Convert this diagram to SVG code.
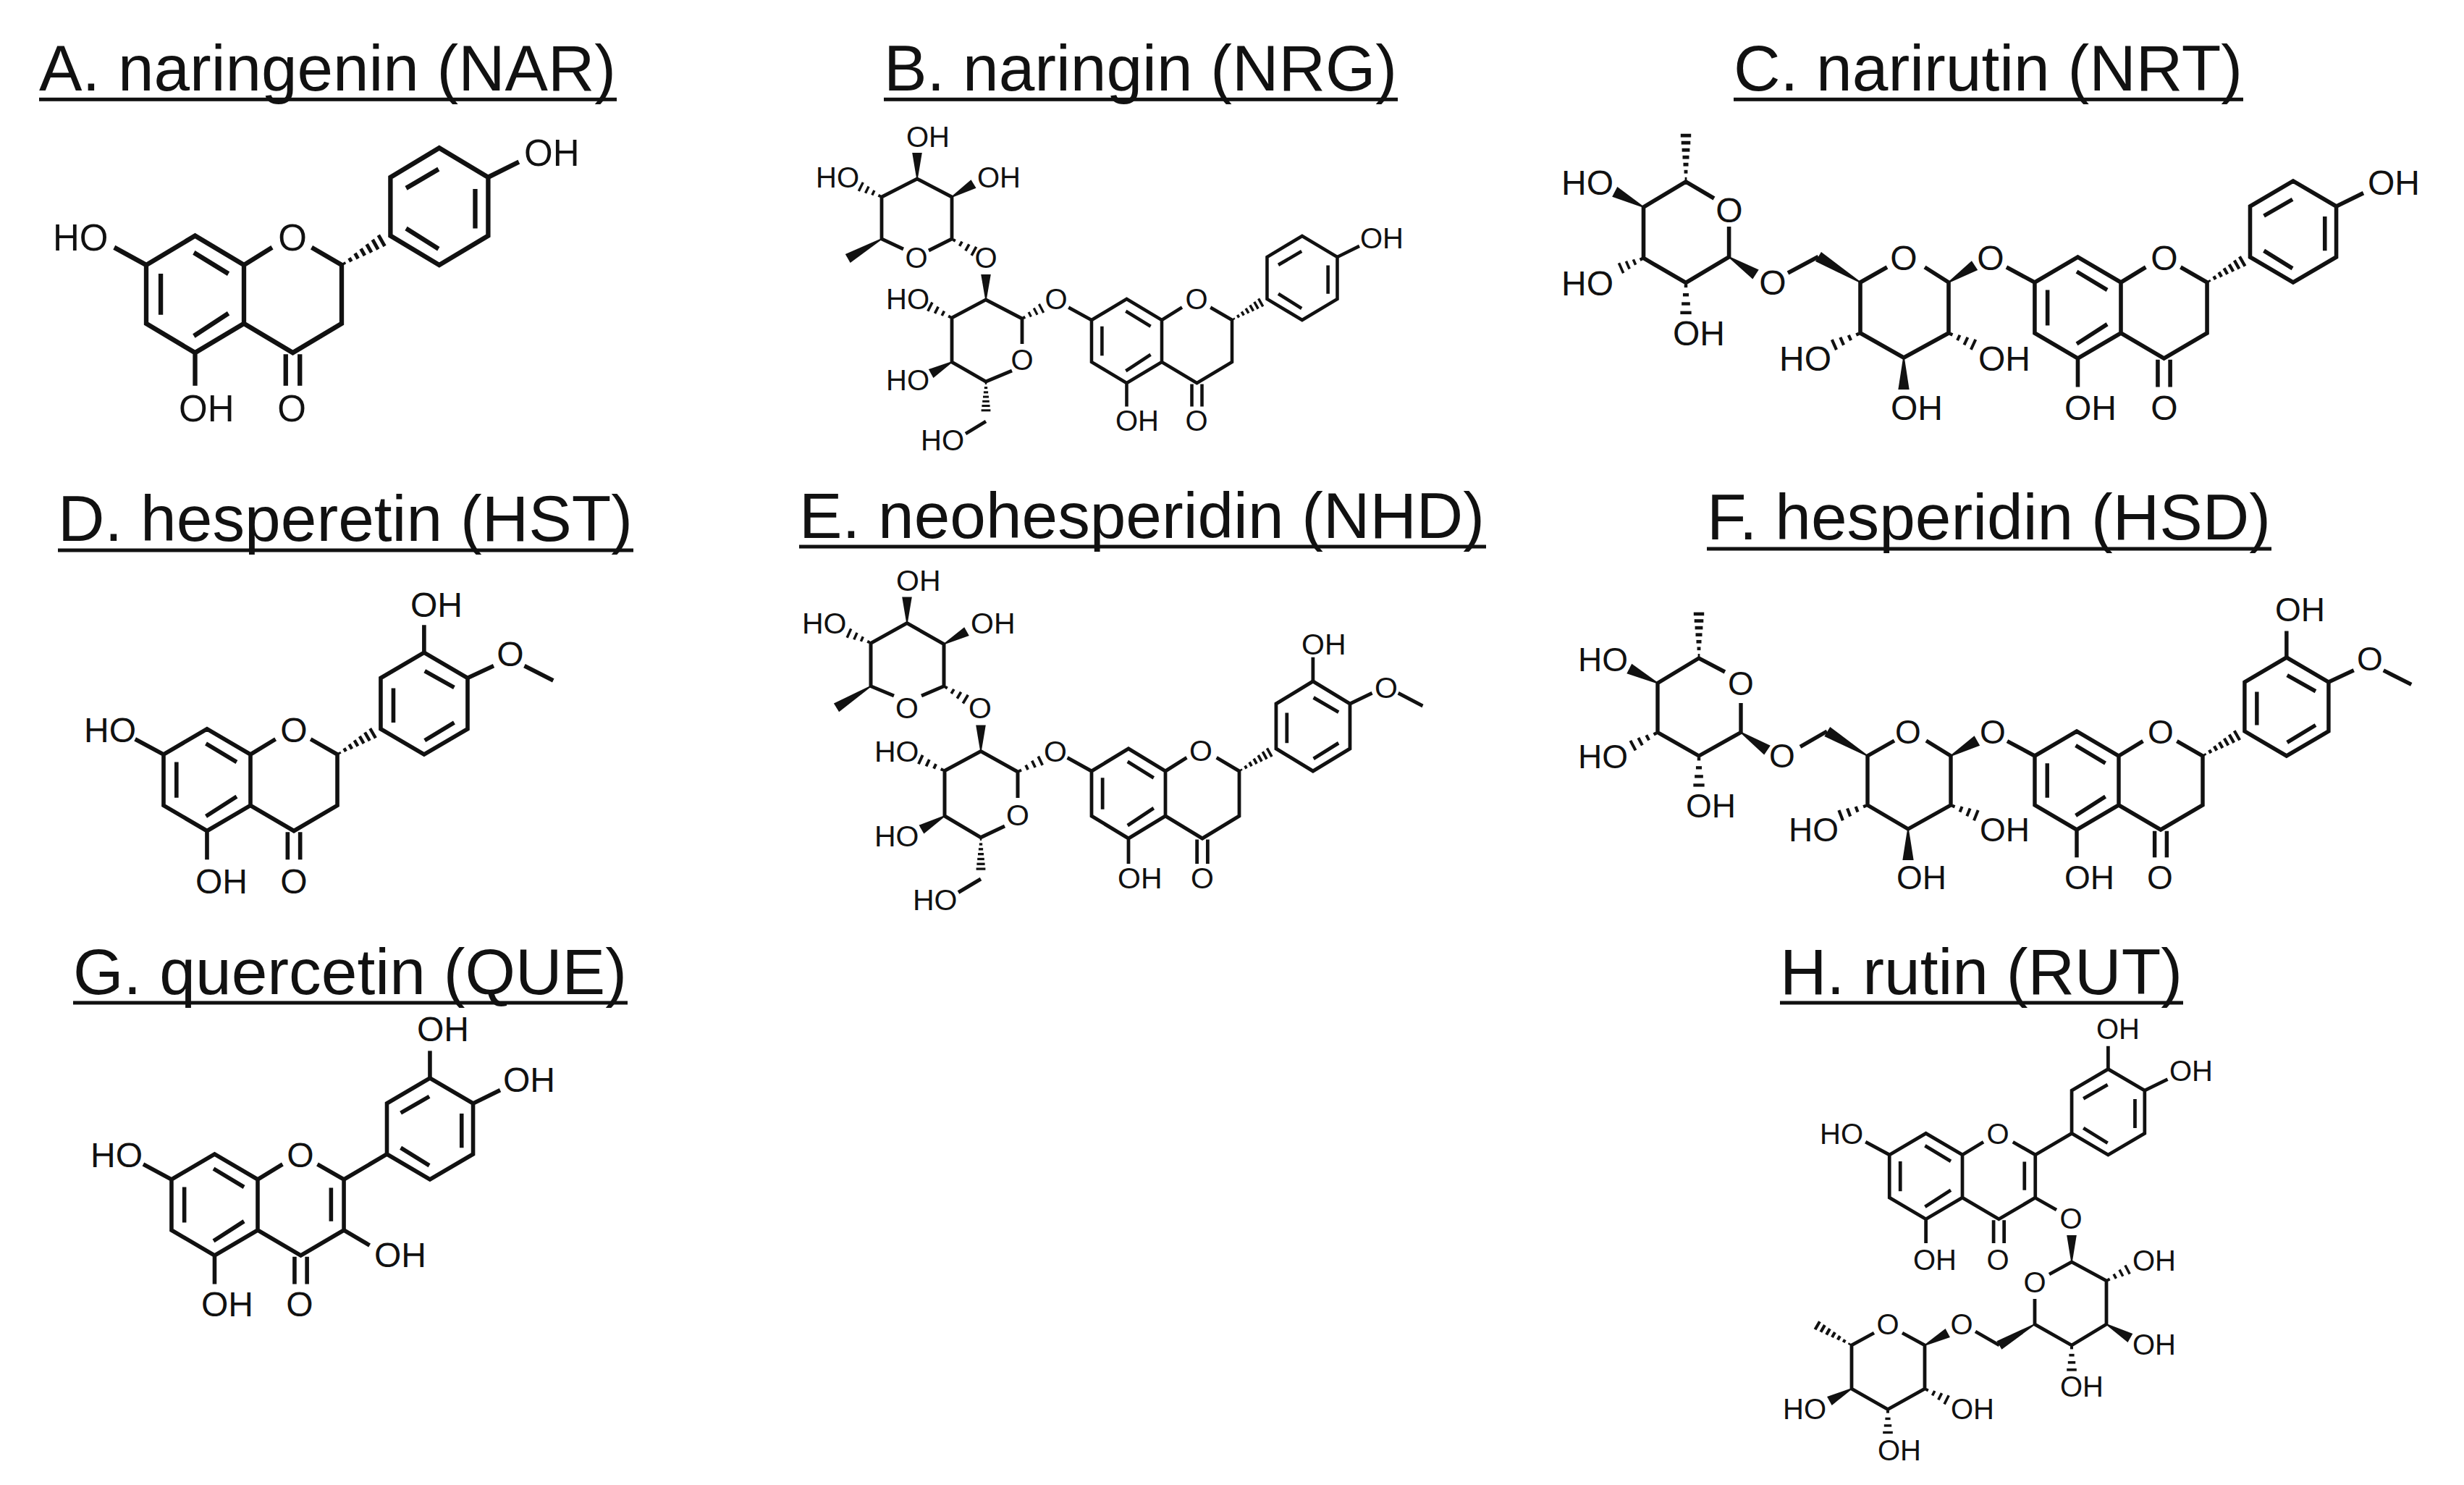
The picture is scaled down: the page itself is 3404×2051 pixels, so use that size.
<svg xmlns="http://www.w3.org/2000/svg" width="3404" height="2051" viewBox="0 0 3404 2051">
<style>
text{font-family:"Liberation Sans",Arial,sans-serif;fill:#111}
.t{font-size:89px}
.u{fill:#111;height:5px}
.b{fill:none;stroke:#111;stroke-width:6.5;stroke-linejoin:miter}
.s42{stroke-width:4.8}.s52{stroke-width:5.6}.s46{stroke-width:5}.s50{stroke-width:5.4}
.k{fill:#111}
.m{text-anchor:middle}
#mol-A text.l{font-size:51px}
#mol-B text.l{font-size:40px}
#mol-C text.l{font-size:48px}
#mol-D text.l{font-size:48px}
#mol-E text.l{font-size:41px}
#mol-F text.l{font-size:46px}
#mol-G text.l{font-size:48px}
#mol-H text.l{font-size:40px}
</style>
<defs>
<path id="w" class="k" d="M0,-1L100,-8.5V8.5L0,1Z"/>
<g id="h" class="k"><rect x="5" y="-2.5" width="10" height="5"/><rect x="33" y="-4.5" width="10" height="9"/><rect x="61" y="-6.5" width="10" height="13"/><rect x="89" y="-8.5" width="10" height="17"/></g>
<g id="h7" class="k"><rect x="2" y="-1.5" width="7" height="3"/><rect x="16.5" y="-2.7" width="7" height="5.4"/><rect x="31" y="-3.9" width="7" height="7.8"/><rect x="45.5" y="-5" width="7" height="10"/><rect x="60" y="-6" width="7" height="12"/><rect x="74.5" y="-7" width="7" height="14"/><rect x="89" y="-8" width="7" height="16"/></g>
<path id="core" class="b" d="M-184,-24L-138.6,0L-69.3,-40L0,0V80L-69.3,120L-138.6,80V0M0,0L40,-24M96,-24L138.6,0V80L69.3,120L0,80M-69.3,120V165M59.3,122V165M79.3,122V165M-118,12V68M-71,-17L-22,12M-71,97L-22,66"/>
<use id="hb" href="#h7" transform="translate(138.6,0) rotate(-30.4) scale(.71,1.1)"/>
<path id="fl" class="b" d="M138.6,0L207.8,-40M118,13V66"/>
<path id="phA" class="b" d="M207.8,-40V-120L277,-160L346.4,-120V-40L277,0ZM230,-105L276,-131M328,-104V-50M230,-50L276,-22"/>
<path id="phD" class="b" d="M207.8,-40V-120L277,-160L346.4,-120V-40L277,0ZM228,-104V-50M278,-131L325,-105M278,-22L325,-50"/>
<path id="oh4" class="b" d="M346.4,-120L390,-141"/>
<path id="oh3" class="b" d="M277,-160V-203"/>
<path id="ome" class="b" d="M346.4,-120L388,-139M437,-139L483,-116M277,-160V-203"/>
</defs>
<rect width="3404" height="2051" fill="#fff"/>

<g id="mol-A">
<text class="t" x="54" y="124.5" textLength="797" lengthAdjust="spacingAndGlyphs">A. naringenin (NAR)</text>
<rect class="u" x="54" y="134.8" width="798" height="5"/>
<g transform="translate(337,366) scale(.974,1.01)"><use href="#core"/><use href="#hb"/><use href="#phA"/><use href="#oh4"/></g>
<text class="l" x="724" y="229">OH</text><text class="l" x="73" y="346">HO</text><text class="l m" x="404" y="346">O</text><text class="l" x="247" y="582">OH</text><text class="l m" x="403" y="582">O</text>
</g>

<g id="mol-B">
<text class="t" x="1221" y="124.5" textLength="709" lengthAdjust="spacingAndGlyphs">B. naringin (NRG)</text>
<rect class="u" x="1221" y="134.8" width="710" height="5"/>
<g transform="translate(1605,442) scale(.70,.725)"><use href="#core"/><use href="#hb"/><use href="#phA"/><use href="#oh4"/></g>
<path class="b s42" d="M1283,346L1315,330V272L1267,247L1218,272V330L1248,344M1412,475V440L1362,414L1315,439V500L1362,527L1398,512M1362,582L1334,599"/>
<use href="#w" transform="translate(1267,247) rotate(-90) scale(.36,.8)"/>
<use href="#h" transform="translate(1218,272) rotate(-154) scale(.34,.8)"/>
<use href="#w" transform="translate(1315,272) rotate(-31) scale(.35,.8)"/>
<use href="#w" transform="translate(1218,330) rotate(150) scale(.54,.8)"/>
<use href="#h" transform="translate(1315,330) rotate(29) scale(.37,.8)"/>
<use href="#w" transform="translate(1362,414) rotate(-90) scale(.35,.8)"/>
<use href="#h" transform="translate(1315,439) rotate(-153) scale(.36,.8)"/>
<use href="#w" transform="translate(1315,500) rotate(151) scale(.33,.8)"/>
<use href="#h" transform="translate(1412,440) rotate(-28) scale(.32,.8)"/>
<use href="#h7" transform="translate(1362,527) rotate(90) scale(.43,.8)"/>
<text class="l" x="1252" y="203">OH</text><text class="l" x="1127" y="259">HO</text><text class="l" x="1350" y="259">OH</text>
<text class="l m" x="1266" y="370">O</text><text class="l m" x="1362" y="370">O</text>
<text class="l" x="1224" y="427">HO</text><text class="l" x="1224" y="539">HO</text><text class="l m" x="1412" y="511">O</text><text class="l m" x="1459" y="427">O</text><text class="l" x="1272" y="622">HO</text>
<text class="l m" x="1653" y="427">O</text><text class="l" x="1541" y="595">OH</text><text class="l m" x="1653" y="595">O</text><text class="l" x="1879" y="343">OH</text>
</g>

<g id="mol-C">
<text class="t" x="2395" y="124.5" textLength="703" lengthAdjust="spacingAndGlyphs">C. narirutin (NRT)</text>
<rect class="u" x="2395" y="134.8" width="704" height="5"/>
<g transform="translate(2930,390) scale(.859,.875)"><use href="#core"/><use href="#hb"/><use href="#phA"/><use href="#oh4"/></g>
<path class="b s52" d="M2368,274L2329,251L2270.5,286V356.5L2329,390.5L2388.6,355V313M2470,377L2512,354.5M2607,369L2570,390V460L2630,494L2692,460V390L2659,369"/>
<use href="#h7" transform="translate(2329,251) rotate(-90) scale(.69,.9)"/>
<use href="#w" transform="translate(2270.5,286) rotate(-152) scale(.45,.9)"/>
<use href="#h" transform="translate(2270.5,356.5) rotate(156) scale(.36,.9)"/>
<use href="#h" transform="translate(2329,390.5) rotate(90) scale(.44,.9)"/>
<use href="#w" transform="translate(2388.6,355) rotate(33) scale(.44,.9)"/>
<use href="#w" transform="translate(2570,390) rotate(-148.5) scale(.68,.9)"/>
<use href="#w" transform="translate(2692,390) rotate(-33) scale(.43,.9)"/>
<use href="#h" transform="translate(2570,460) rotate(156) scale(.42,.9)"/>
<use href="#h" transform="translate(2692,460) rotate(25) scale(.40,.9)"/>
<use href="#w" transform="translate(2630,494) rotate(90) scale(.44,.9)"/>
<text class="l" x="2157" y="269">HO</text><text class="l" x="2157" y="408">HO</text><text class="l" x="2311" y="477">OH</text>
<text class="l m" x="2389" y="307">O</text><text class="l m" x="2449" y="407">O</text><text class="l m" x="2630" y="373">O</text><text class="l m" x="2750" y="373">O</text>
<text class="l" x="2458" y="512">HO</text><text class="l" x="2733" y="512">OH</text><text class="l" x="2612" y="580">OH</text>
<text class="l m" x="2990" y="373">O</text><text class="l" x="2852" y="580">OH</text><text class="l m" x="2990" y="580">O</text><text class="l" x="3271" y="269">OH</text>
</g>

<g id="mol-D">
<text class="t" x="80" y="747" textLength="794" lengthAdjust="spacingAndGlyphs">D. hesperetin (HST)</text>
<rect class="u" x="80" y="757.5" width="795" height="5"/>
<g transform="translate(346,1042) scale(.866,.88)"><use href="#core"/><use href="#hb"/><use href="#phD"/><use href="#ome"/></g>
<text class="l" x="116" y="1025">HO</text><text class="l m" x="406" y="1025">O</text><text class="l" x="270" y="1234">OH</text><text class="l m" x="406" y="1234">O</text><text class="l" x="567" y="852">OH</text><text class="l m" x="705" y="920">O</text>
</g>

<g id="mol-E">
<text class="t" x="1104" y="743" textLength="947" lengthAdjust="spacingAndGlyphs">E. neohesperidin (NHD)</text>
<rect class="u" x="1104" y="752.5" width="949" height="5"/>
<g transform="translate(1610,1065) scale(.736,.775)"><use href="#core"/><use href="#hb"/><use href="#phD"/><use href="#ome"/></g>
<path class="b s46" d="M1273,961L1304,947.7V889.6L1253,860.6L1203,888.4V947.7L1235,961M1406,1102V1066L1355,1037.6L1305,1064.6V1127L1355,1156.6L1388,1141M1355,1214L1324,1232.5"/>
<use href="#w" transform="translate(1253,860.6) rotate(-90) scale(.36,.8)"/>
<use href="#h" transform="translate(1203,888) rotate(-156) scale(.35,.8)"/>
<use href="#w" transform="translate(1304,889.6) rotate(-29) scale(.36,.8)"/>
<use href="#w" transform="translate(1203,947.7) rotate(148) scale(.56,.8)"/>
<use href="#h" transform="translate(1304,947.7) rotate(31) scale(.37,.8)"/>
<use href="#w" transform="translate(1355,1037.6) rotate(-90) scale(.36,.8)"/>
<use href="#h" transform="translate(1305,1064.6) rotate(-155) scale(.39,.8)"/>
<use href="#w" transform="translate(1305,1127) rotate(150) scale(.37,.8)"/>
<use href="#h" transform="translate(1406,1066) rotate(-26) scale(.37,.8)"/>
<use href="#h7" transform="translate(1355,1156.6) rotate(90) scale(.47,.8)"/>
<text class="l" x="1238" y="816">OH</text><text class="l" x="1108" y="875">HO</text><text class="l" x="1341" y="875">OH</text>
<text class="l m" x="1253" y="992">O</text><text class="l m" x="1354" y="992">O</text>
<text class="l" x="1208" y="1052">HO</text><text class="l" x="1208" y="1169">HO</text><text class="l m" x="1406" y="1140">O</text><text class="l m" x="1458" y="1052">O</text><text class="l" x="1261" y="1257">HO</text>
<text class="l m" x="1659" y="1051">O</text><text class="l" x="1544" y="1227">OH</text><text class="l m" x="1661" y="1227">O</text><text class="l" x="1798" y="904">OH</text><text class="l m" x="1915" y="964">O</text>
</g>

<g id="mol-F">
<text class="t" x="2358" y="745" textLength="779" lengthAdjust="spacingAndGlyphs">F. hesperidin (HSD)</text>
<rect class="u" x="2358" y="755.5" width="780" height="5"/>
<g transform="translate(2927,1044) scale(.837,.85)"><use href="#core"/><use href="#hb"/><use href="#phD"/><use href="#ome"/></g>
<path class="b s50" d="M2383,928L2347,909L2290,943.5V1011.5L2347,1044L2405,1011.5V971M2487,1031.4L2524,1010M2617,1023L2580,1044V1112L2636,1145L2695,1112V1044L2661,1023"/>
<use href="#h7" transform="translate(2347,909) rotate(-90) scale(.66,.9)"/>
<use href="#w" transform="translate(2290,943.5) rotate(-153) scale(.44,.9)"/>
<use href="#h" transform="translate(2290,1011.5) rotate(152) scale(.41,.9)"/>
<use href="#h" transform="translate(2347,1044) rotate(90) scale(.43,.9)"/>
<use href="#w" transform="translate(2405,1011.5) rotate(34) scale(.44,.9)"/>
<use href="#w" transform="translate(2580,1044) rotate(-149) scale(.65,.9)"/>
<use href="#w" transform="translate(2695,1044) rotate(-30) scale(.42,.9)"/>
<use href="#h" transform="translate(2580,1112) rotate(159) scale(.42,.9)"/>
<use href="#h" transform="translate(2695,1112) rotate(22) scale(.40,.9)"/>
<use href="#w" transform="translate(2636,1145) rotate(90) scale(.43,.9)"/>
<text class="l" x="2180" y="927">HO</text><text class="l" x="2180" y="1061">HO</text><text class="l" x="2329" y="1129">OH</text>
<text class="l m" x="2405" y="960">O</text><text class="l m" x="2462" y="1060">O</text><text class="l m" x="2636" y="1027">O</text><text class="l m" x="2753" y="1027">O</text>
<text class="l" x="2471" y="1162">HO</text><text class="l" x="2735" y="1162">OH</text><text class="l" x="2620" y="1228">OH</text>
<text class="l m" x="2985" y="1027">O</text><text class="l" x="2852" y="1228">OH</text><text class="l m" x="2984" y="1228">O</text><text class="l" x="3143" y="858">OH</text><text class="l m" x="3274" y="926">O</text>
</g>

<g id="mol-G">
<text class="t" x="101" y="1373" textLength="765" lengthAdjust="spacingAndGlyphs">G. quercetin (QUE)</text>
<rect class="u" x="101" y="1382.5" width="766" height="5"/>
<g transform="translate(356,1629) scale(.859,.875)"><use href="#core"/><use href="#fl"/><use href="#phA"/><use href="#oh4"/><use href="#oh3"/><path class="b" d="M138.6,80L180,104"/></g>
<text class="l" x="125" y="1612">HO</text><text class="l m" x="415" y="1612">O</text><text class="l" x="576" y="1438">OH</text><text class="l" x="695" y="1508">OH</text><text class="l" x="517" y="1750">OH</text><text class="l" x="278" y="1818">OH</text><text class="l m" x="414" y="1818">O</text>
</g>

<g id="mol-H">
<text class="t" x="2459" y="1373" textLength="556" lengthAdjust="spacingAndGlyphs">H. rutin (RUT)</text>
<rect class="u" x="2459" y="1382.5" width="557" height="5"/>
<g transform="translate(2711,1595) scale(.727,.74)"><use href="#core"/><use href="#fl"/><use href="#phA"/><use href="#oh4"/><use href="#oh3"/></g>
<path class="b s42" d="M2811,1654L2841,1671M2831,1760L2862,1743L2910,1769V1829L2862,1858L2811,1829V1794M2762,1858L2729,1839M2628,1841L2659,1858V1918L2608,1946.5L2558,1918V1858L2589,1841"/>
<use href="#w" transform="translate(2862,1743) rotate(-90) scale(.37,.8)"/>
<use href="#h" transform="translate(2910,1769) rotate(-28) scale(.35,.8)"/>
<use href="#w" transform="translate(2910,1829) rotate(30) scale(.38,.8)"/>
<use href="#h" transform="translate(2862,1858) rotate(90) scale(.36,.8)"/>
<use href="#w" transform="translate(2811,1829) rotate(149.4) scale(.57,.8)"/>
<use href="#w" transform="translate(2659,1858) rotate(-28) scale(.36,.8)"/>
<use href="#h7" transform="translate(2558,1858) rotate(-150) scale(.59,.8)"/>
<use href="#w" transform="translate(2558,1918) rotate(151) scale(.35,.8)"/>
<use href="#h" transform="translate(2659,1918) rotate(27) scale(.36,.8)"/>
<use href="#h" transform="translate(2608,1946.5) rotate(90) scale(.34,.8)"/>
<text class="l" x="2514" y="1580">HO</text><text class="l m" x="2760" y="1580">O</text><text class="l" x="2896" y="1435">OH</text><text class="l" x="2997" y="1493">OH</text>
<text class="l" x="2643" y="1754">OH</text><text class="l m" x="2760" y="1754">O</text><text class="l m" x="2861" y="1697">O</text>
<text class="l m" x="2811" y="1785">O</text><text class="l" x="2946" y="1755">OH</text><text class="l" x="2946" y="1871">OH</text><text class="l" x="2846" y="1929">OH</text>
<text class="l m" x="2710" y="1843">O</text><text class="l m" x="2608" y="1843">O</text><text class="l" x="2463" y="1960">HO</text><text class="l" x="2695" y="1960">OH</text><text class="l" x="2594" y="2017">OH</text>
</g>
</svg>
